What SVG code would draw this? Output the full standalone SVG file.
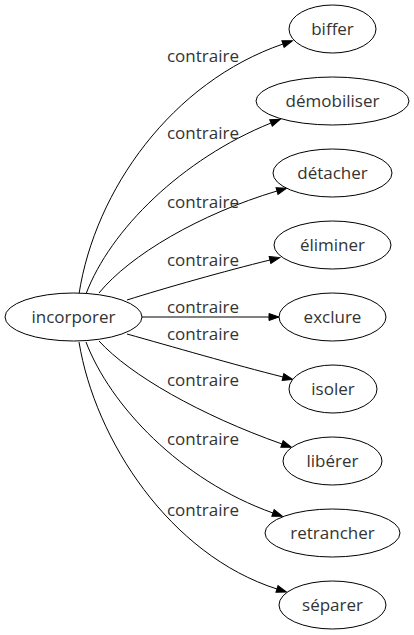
<svg xmlns="http://www.w3.org/2000/svg" width="414" height="635" viewBox="0 0 414 635">
<style>
  .node ellipse { fill: #ffffff; stroke: #000000; stroke-width: 1; }
  text { font-family: "Open Sans", "DejaVu Sans", sans-serif; font-size: 17px; fill: #333333; text-anchor: middle; }
  .edge path { fill: none; stroke: #000000; stroke-width: 1; marker-end: url(#arrow); }
</style>
<defs>
  <marker id="arrow" markerUnits="userSpaceOnUse" markerWidth="10" markerHeight="7" refX="0" refY="3.5" orient="auto" overflow="visible">
    <path d="M0,0 L10,3.5 L0,7 z" fill="#000000" stroke="#000000" stroke-width="1"/>
  </marker>
</defs>
<rect width="414" height="635" fill="#ffffff"/>
<g id="edges" class="edge">
  <path d="M79,294 C95,190 172,82 283,44"/>
  <path d="M86,294 C110,230 182,159 271,123"/>
  <path d="M99,293 C130,255 200,214 277,191"/>
  <path d="M127,300 C165,288 225,271 270,260"/>
  <path d="M142,317 L269,317"/>
  <path d="M127,334 C170,346 235,365 283,377"/>
  <path d="M99,341 C130,375 200,415 282,444"/>
  <path d="M86,342 C110,405 180,480 273,513"/>
  <path d="M79,342 C95,440 170,555 277,589"/>
  <text x="203" y="62">contraire</text>
  <text x="203" y="139">contraire</text>
  <text x="203" y="208">contraire</text>
  <text x="203" y="266">contraire</text>
  <text x="203" y="313">contraire</text>
  <text x="203" y="340">contraire</text>
  <text x="203" y="386">contraire</text>
  <text x="203" y="445">contraire</text>
  <text x="203" y="516">contraire</text>
</g>
<g id="incorporer" class="node"><ellipse cx="73.5" cy="317" rx="68.5" ry="24"/><text x="73.5" y="323">incorporer</text></g>
<g id="biffer" class="node"><ellipse cx="332.5" cy="29" rx="43.5" ry="24"/><text x="332.5" y="35">biffer</text></g>
<g id="demobiliser" class="node"><ellipse cx="332.5" cy="101" rx="76.5" ry="24"/><text x="332.5" y="107">démobiliser</text></g>
<g id="detacher" class="node"><ellipse cx="332.5" cy="173" rx="59.5" ry="24"/><text x="332.5" y="179">détacher</text></g>
<g id="eliminer" class="node"><ellipse cx="332.5" cy="245" rx="58.5" ry="24"/><text x="332.5" y="251">éliminer</text></g>
<g id="exclure" class="node"><ellipse cx="332.5" cy="317" rx="53.5" ry="24"/><text x="332.5" y="323">exclure</text></g>
<g id="isoler" class="node"><ellipse cx="333" cy="389" rx="44" ry="24"/><text x="333" y="395">isoler</text></g>
<g id="liberer" class="node"><ellipse cx="332.5" cy="461" rx="49.5" ry="24"/><text x="332.5" y="467">libérer</text></g>
<g id="retrancher" class="node"><ellipse cx="332.5" cy="533" rx="67.5" ry="24"/><text x="332.5" y="539">retrancher</text></g>
<g id="separer" class="node"><ellipse cx="332.5" cy="605" rx="53.5" ry="24"/><text x="332.5" y="611">séparer</text></g>
</svg>
